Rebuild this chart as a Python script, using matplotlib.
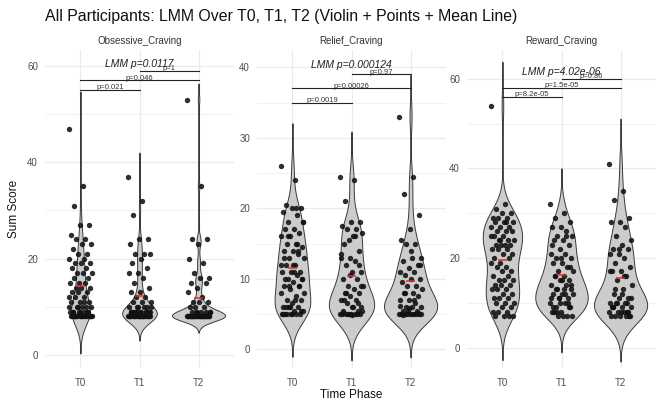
import numpy as np
import matplotlib
matplotlib.use("Agg")
import matplotlib.pyplot as plt

plt.rcParams['font.family'] = ['Liberation Sans', 'DejaVu Sans']

# ---------------- data ----------------
panels = ["Obsessive_Craving", "Relief_Craving", "Reward_Craving"]
phases = ["T0", "T1", "T2"]

obs_T0 = [47, 35, 31, 27, 27, 25, 24, 24, 23, 23, 22, 21, 21, 20, 20, 19, 19, 19, 18, 18,
          17, 17, 17, 16, 16, 15, 15, 15, 14, 14, 14, 13, 13, 13, 12, 12, 12, 11, 11, 11,
          10, 10, 10, 10, 9, 9, 9, 9, 9, 8, 8, 8, 8, 8, 8, 8, 8, 8, 8, 8, 8, 8,
          8, 8, 8, 9, 9, 10, 10, 11, 8, 8, 9]
obs_T1 = [37, 32, 29, 24, 24, 23, 21, 21, 21, 20, 19, 18, 17, 17, 16, 15, 14, 13, 13, 12,
          12, 11, 11, 11, 10, 10, 10, 10, 9, 9, 9, 9, 9, 9, 8, 8, 8, 8, 8, 8, 8, 8, 8, 8,
          8, 8, 8, 8, 8, 8, 8, 8, 9, 9, 10, 10, 8, 9, 8, 8, 8, 8, 8, 9, 9, 9]
obs_T2 = [53, 35, 24, 24, 23, 20, 19, 17, 16, 16, 15, 15, 14, 13, 12, 11, 11, 11, 10, 10,
          10, 9, 9, 9, 9, 9, 8, 8, 8, 8, 8, 8, 8, 8, 8, 8, 8, 8, 8, 8, 8, 8, 8, 8, 8, 8,
          8, 8, 8, 8, 8, 8, 8, 8, 9, 9, 8, 8]

rel_T0 = [26, 24, 20.5, 20, 20, 19.5, 19, 18, 18, 17, 17, 16.5, 16, 16, 15, 15, 14.5, 14, 14,
          13.5, 13, 13, 12, 12, 11, 11, 11, 10.5, 10, 10, 9.5, 9, 9, 8.5, 8, 7.5, 7, 7, 6.5,
          6, 6, 6, 5.5, 5.5, 5, 5, 5, 5, 5, 5,
          10, 12, 13, 14, 9, 8, 7, 6, 5.5, 5, 5, 15, 16, 18, 11, 10, 9, 6, 12, 20]
rel_T1 = [24.5, 24, 21, 18, 18, 17.5, 17, 17, 16.5, 16, 15, 14, 13, 13, 12.5, 12, 11, 11, 10,
          10, 9, 9, 8.5, 8, 8, 7.5, 7, 7, 6.5, 6, 6, 5.5, 5.5, 5, 5, 5, 5, 5, 5, 5, 5, 5,
          5.5, 6, 7, 12, 10.5, 13.5, 16, 8, 9, 4.8, 5.2, 6.5, 15.5]
rel_T2 = [33, 24.5, 22, 19, 17, 15.5, 15, 15, 13, 13, 12.5, 12, 11.5, 11, 11, 10.5, 10, 10,
          9.5, 9, 9, 8.5, 8, 8, 7.5, 7, 7, 6.5, 6, 6, 6, 5.5, 5.5, 5.5, 5, 5, 5, 5, 5, 5,
          5, 5, 5, 5, 4.8, 5.2, 5.8, 6.2, 7, 8, 12, 14]

rew_T0 = [54, 32, 31, 30, 30, 29, 29, 29, 28, 28, 28, 27, 27, 27, 26, 26, 26, 25, 25, 24, 24,
          24, 23, 23, 23, 23, 22, 22, 22, 21, 21, 20, 20, 19, 19, 18, 18, 17, 17, 16, 16, 15,
          15, 15, 14, 14, 14, 13, 13, 13, 12, 12, 11, 11, 11, 10, 10, 10, 9, 9, 8, 8, 8, 7,
          7, 7, 7, 24, 25, 28]
rew_T1 = [32, 30, 29, 28, 27, 27, 26, 25, 25, 24, 24, 23, 22, 21, 21, 20, 20, 19, 19, 18, 17,
          17, 16, 16, 15, 15, 14, 14, 13, 13, 12, 12, 11, 11, 10, 10, 9, 9, 8, 8, 7, 7, 7,
          7, 8, 9, 10, 11, 12, 13, 14, 15, 9, 10, 11, 12, 13, 16, 18, 20, 23, 25, 8]
rew_T2 = [41, 35, 33, 29, 28, 28, 27, 25, 24, 23, 22, 22, 21, 21, 20, 19, 18, 17, 17, 16, 15,
          14, 13, 12, 11, 11, 10, 10, 10, 9, 9, 9, 8, 8, 8, 8, 7, 7, 7, 7, 7,
          10, 11, 12, 9, 8, 22, 17, 16, 13, 7, 8, 9, 10]

panel_data = [[obs_T0, obs_T1, obs_T2], [rel_T0, rel_T1, rel_T2], [rew_T0, rew_T1, rew_T2]]

lmm_labels = ["LMM p=0.0117", "LMM p=0.000124", "LMM p=4.02e-06"]
pair_idx = [(0, 1), (0, 2), (1, 2)]
pair_labels = [["p=0.021", "p=0.046", "p=1"],
               ["p=0.0019", "p=0.00026", "p=0.97"],
               ["p=8.2e-05", "p=1.5e-05", "p=0.86"]]
bracket_y = [[55, 57, 59], [35, 37, 39], [56, 58, 60]]
lmm_y = [60.4, 40.3, 61.4]

ylims = [(-2.7, 63.3), (-2.65, 42.45), (-4.53, 66.4)]
major_ticks = [[0, 20, 40, 60], [0, 10, 20, 30, 40], [0, 20, 40, 60]]
minor_ticks = [[10, 30, 50], [5, 15, 25, 35], [10, 30, 50]]

# ---------------- helpers ----------------
def nrd0(x):
    x = np.asarray(x, float)
    hi = np.std(x, ddof=1)
    q75, q25 = np.percentile(x, [75, 25])
    lo = min(hi, (q75 - q25) / 1.34)
    if lo == 0:
        lo = hi if hi else 1.0
    return 0.9 * lo * len(x) ** (-0.2)

def kde(x):
    x = np.asarray(x, float)
    bw = nrd0(x)
    g = np.linspace(x.min() - 3 * bw, x.max() + 3 * bw, 512)
    d = np.exp(-0.5 * ((g[:, None] - x[None, :]) / bw) ** 2).sum(1) / (len(x) * bw * np.sqrt(2 * np.pi))
    return g, d

# ---------------- figure ----------------
W, H = 660, 403
fig = plt.figure(figsize=(W / 100, H / 100), dpi=100)
lefts = [45, 257, 467]
pw = 189
top_px, bot_px = 50, 368

tick_color = '#4D4D4D'
for p in range(3):
    ax = fig.add_axes([lefts[p] / W, 1 - bot_px / H, pw / W, (bot_px - top_px) / H])
    ax.set_xlim(0.4, 3.6)
    ax.set_ylim(*ylims[p])
    for s in ax.spines.values():
        s.set_visible(False)
    ax.set_xticks([1, 2, 3])
    ax.set_xticklabels(phases)
    ax.set_yticks(major_ticks[p])
    ax.set_yticks(minor_ticks[p], minor=True)
    ax.tick_params(axis='both', which='both', length=0, labelsize=7, colors=tick_color)
    ax.tick_params(axis='x', pad=7)
    ax.tick_params(axis='y', pad=5)
    ax.grid(True, which='major', color='#EBEBEB', lw=0.9)
    ax.grid(True, which='minor', axis='y', color='#EBEBEB', lw=0.5)
    ax.set_axisbelow(True)

    dens = [kde(v) for v in panel_data[p]]
    maxd = max(d.max() for _, d in dens)
    for i, (vals, (g, d)) in enumerate(zip(panel_data[p], dens)):
        pos = i + 1
        hw = 0.45 * d / maxd
        ax.fill_betweenx(g, pos - hw, pos + hw, facecolor='#CCCCCC', edgecolor='#3A3A3A',
                         lw=0.7, zorder=2)
        n = len(vals)
        jit = np.array([((k * 0.6180339887) % 1.0 - 0.5) * 0.4 for k in range(n)])
        ax.scatter(pos + jit, vals, s=15, color='#111111', alpha=0.88, lw=0, zorder=3)
        m = np.mean(vals)
        ax.plot([pos - 0.08, pos + 0.08], [m, m], color='#E8282B', lw=1.1, zorder=4,
                solid_capstyle='butt')

    for k, (a, b) in enumerate(pair_idx):
        yb = bracket_y[p][k]
        ax.plot([a + 1, b + 1], [yb, yb], color='#222222', lw=0.8, zorder=5)
        ax.annotate(pair_labels[p][k], xy=((a + b) / 2 + 1, yb), xytext=(0, 1.5),
                    textcoords='offset points', ha='center', va='center', fontsize=5.5,
                    color='#333333', zorder=6)
    ax.text(2, lmm_y[p], lmm_labels[p], ha='center', va='center', fontsize=7.5,
            style='italic', color='#222222', zorder=6)

    fig.text((lefts[p] + pw / 2) / W, 1 - 41 / H, panels[p], ha='center', va='center',
             fontsize=7, color='#333333')

fig.text(45 / W, 1 - 17 / H, "All Participants: LMM Over T0, T1, T2 (Violin + Points + Mean Line)",
         ha='left', va='center', fontsize=11.4, color='#111111')
fig.text(14 / W, 1 - 209 / H, "Sum Score", rotation=90, ha='center', va='center',
         fontsize=8.5, color='#111111')
fig.text(351 / W, 1 - 395 / H, "Time Phase", ha='center', va='center', fontsize=8.5,
         color='#111111')

fig.savefig("out.png", dpi=100, facecolor='white')
